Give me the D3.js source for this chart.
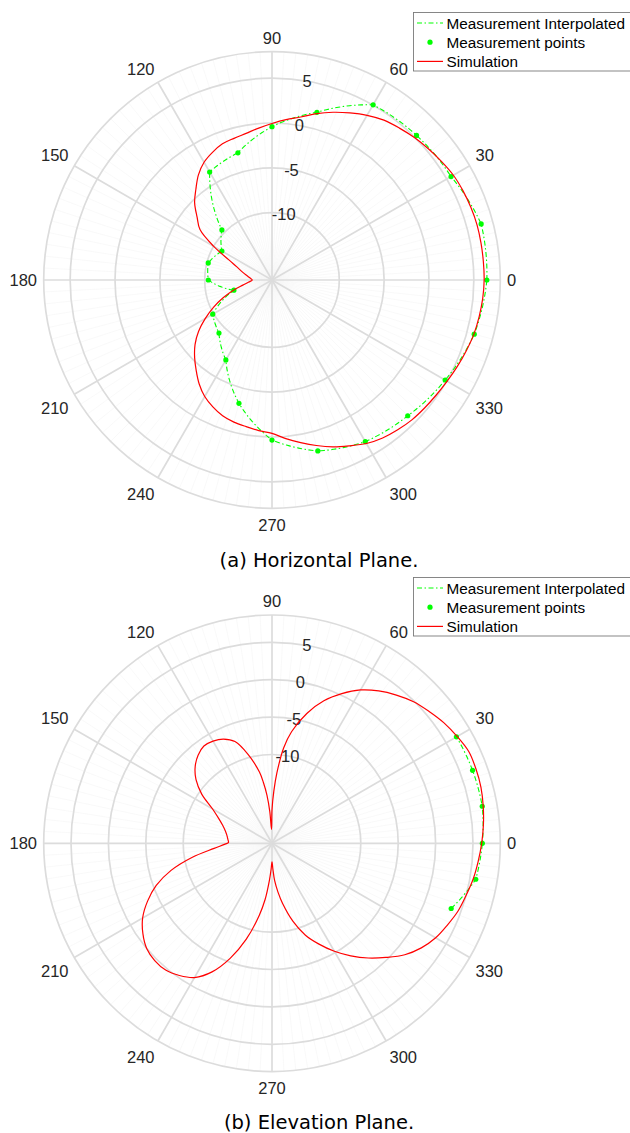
<!DOCTYPE html>
<html>
<head>
<meta charset="utf-8">
<script src="https://cdn.jsdelivr.net/npm/d3@7"></script>
<style>
  html, body { margin: 0; padding: 0; background: #fff; }
  svg { display: block; }
  .tick { font-family: "Liberation Sans", Arial, sans-serif; font-size: 16.5px; fill: #262626; }
  .leg { font-family: "Liberation Sans", Arial, sans-serif; font-size: 15.3px; fill: #000; }
  .cap { font-family: "DejaVu Sans", sans-serif; font-size: 19.5px; fill: #000; }
</style>
</head>
<body>
<svg id="fig" width="630" height="1133"></svg>
<script>
// ---- Horizontal plane: measured gain (dBi) every 15 degrees ----
const hMeasAngles = [0, 15, 30, 45, 60, 75, 90, 105, 120, 135, 150, 165,
                     180, 195, 210, 225, 240, 255, 270, 285, 300, 315, 330, 345];
const hMeasValues = [6.45, 6.64, 5.55, 5.29, 5.05, 1.85, -0.41, -2.82, -3.6, -9.6, -11.05, -10.14,
                     -10.4, -13.1, -9.87, -9.14, -7.21, -3.27, 0.34, 2.23, 3.30, 3.90, 4.79, 5.84];

// ---- Horizontal plane: simulated pattern ----
const hSimAngles = d3.range(0, 360, 5);
const hSimValues = [6.15, 6.15, 6.16, 6.17, 6.1, 6.0, 5.85, 5.55, 5.25, 4.95, 4.6, 4.25,
                    3.7, 3.05, 2.4, 1.7, 0.95, 0.45, -0.05, -0.5, -0.9, -1.15, -1.35, -1.8,
                    -2.35, -3.2, -4.3, -5.3, -6.6, -7.7, -10.0, -12.2, -13.4, -14.1, -14.65, -15.05,
                    -15.3, -14.9, -14.2, -13.0, -11.7, -10.3, -8.9, -7.5, -6.3, -5.3, -4.35, -3.35,
                    -2.5, -1.9, -1.4, -1.1, -0.9, -0.65, -0.4, 0.25, 0.9, 1.6, 2.3, 2.9,
                    3.55, 4.0, 4.3, 4.55, 4.7, 4.85, 5.05, 5.3, 5.55, 5.8, 5.95, 6.08];

// ---- Elevation plane: measured gain every 10 degrees around boresight ----
const eMeasAngles = [340, 350, 0, 10, 20, 30];
const eMeasValues = [3.62, 5.79, 6.25, 6.67, 6.66, 6.6];

// ---- Elevation plane: simulated pattern ----
const eSimAngles = [0, 5, 10, 15, 20, 25, 30, 35, 40, 45, 50, 55, 60, 65, 70, 75, 80, 83, 86, 88,
                    90, 92, 94, 96, 98, 100, 105, 110, 115, 120, 125, 130, 135, 140, 145, 150, 155,
                    160, 165, 170, 175, 179, 181, 185, 190, 195, 200, 205, 210, 215, 220, 225, 230,
                    235, 240, 245, 250, 255, 260, 263, 266, 268, 270, 272, 274, 277, 280, 285, 290,
                    295, 300, 305, 310, 315, 320, 325, 330, 335, 340, 345, 350, 355];
const eSimValues = [6.16, 6.5, 6.8, 7.05, 7.15, 7.15, 6.7, 6.2, 5.55, 4.9, 4.0, 3.0, 1.8, 0.2, -1.6, -3.9, -6.7, -9.0, -12.4, -14.9,
                    -17.4, -20.0, -17.6, -15.4, -13.7, -12.2, -9.6, -7.4, -6.5, -6.1, -6.0, -6.5, -7.35, -8.6, -10.4, -12.7, -14.0,
                    -14.85, -15.4, -15.75, -15.95, -16.05, -15.6, -14.1, -11.0, -7.9, -5.4, -3.5, -1.9, -0.8, 0.0, 0.3, 0.25,
                    -0.3, -1.15, -2.9, -5.5, -8.6, -12.1, -14.3, -16.9, -18.4, -19.4, -18.4, -16.9, -15.3, -13.7, -11.1, -8.8,
                    -7.0, -5.2, -3.5, -1.85, -0.3, 1.3, 2.5, 3.4, 4.0, 4.6, 5.0, 5.45, 5.8];

// ---- Axis ticks and labels ----
const thetaTicks = d3.range(0, 360, 30);
const rTicks = [-10, -5, 0, 5];
const legendLabels = ["Measurement Interpolated", "Measurement points", "Simulation"];
const captions = ["(a) Horizontal Plane.", "(b) Elevation Plane."];

const GREEN = "#00ff00", RED = "#ff0000";
const R = 228.3;          // outer radius of each polar axes
const LABEL_R = 235;      // radius at which angle labels are anchored
const svg = d3.select("#fig");
const deg = Math.PI / 180;

// Angles in degrees, counter-clockwise from east -> d3 radial angle
const radial = a => (90 - a) * deg;

// Straight segments in (angle, value) space, sampled each degree
function polarLinear(angles, values, closed) {
  const pts = [];
  const n = angles.length;
  const segs = closed ? n : n - 1;
  for (let i = 0; i < segs; i++) {
    const a0 = angles[i], v0 = values[i];
    let a1 = angles[(i + 1) % n];
    const v1 = values[(i + 1) % n];
    while (a1 <= a0) a1 += 360;
    const steps = Math.max(1, Math.ceil(a1 - a0));
    const ia = d3.interpolateNumber(a0, a1), iv = d3.interpolateNumber(v0, v1);
    for (let k = 0; k < steps; k++) pts.push([ia(k / steps), iv(k / steps)]);
  }
  if (!closed) pts.push([angles[n - 1], values[n - 1]]);
  return pts;
}

function drawPolar(spec) {
  const g = svg.append("g").attr("transform", `translate(${spec.cx},${spec.cy})`);
  const r = d3.scaleLinear().domain([spec.rMin, spec.rMax]).range([0, R]);

  // minor angular grid
  const minor = d3.range(0, 360, 3).filter(a => a % 30 !== 0);
  g.append("g").selectAll("line").data(minor).join("line")
    .attr("x1", 0).attr("y1", 0)
    .attr("x2", a => R * Math.cos(a * deg)).attr("y2", a => -R * Math.sin(a * deg))
    .attr("stroke", "#f5f5f5").attr("stroke-width", 0.6);

  // rings
  g.append("g").selectAll("circle").data(rTicks.concat([spec.rMax])).join("circle")
    .attr("r", d => r(d)).attr("fill", "none")
    .attr("stroke", "#dcdcdc").attr("stroke-width", 1.7);

  // major spokes
  g.append("g").selectAll("line").data(thetaTicks).join("line")
    .attr("x1", 0).attr("y1", 0)
    .attr("x2", a => R * Math.cos(a * deg)).attr("y2", a => -R * Math.sin(a * deg))
    .attr("stroke", "#dcdcdc").attr("stroke-width", 1.7);

  // angle labels
  g.append("g").selectAll("text").data(thetaTicks).join("text")
    .attr("class", "tick")
    .attr("x", a => LABEL_R * Math.cos(a * deg))
    .attr("y", a => {
      const s = Math.sin(a * deg), y = -LABEL_R * s;
      if (Math.abs(s) < 0.01) return y + 6;
      return s > 0 ? y - 1.5 : y + 16;
    })
    .attr("text-anchor", a => {
      const c = Math.cos(a * deg);
      return Math.abs(c) < 0.01 ? "middle" : (c > 0 ? "start" : "end");
    })
    .text(a => a);

  // radial labels along 80 degrees
  g.append("g").selectAll("text").data(rTicks).join("text")
    .attr("class", "tick")
    .attr("x", d => r(d) * Math.cos(80 * deg))
    .attr("y", d => -r(d) * Math.sin(80 * deg) + 6)
    .attr("text-anchor", "middle")
    .text(d => d);

  const line = d3.lineRadial().angle(d => radial(d[0])).radius(d => r(d[1]));

  // interpolated measurement
  g.append("path")
    .attr("d", line.curve(spec.measClosed ? d3.curveLinearClosed : d3.curveLinear)(
      polarLinear(spec.measAngles, spec.measValues, spec.measClosed)))
    .attr("fill", "none").attr("stroke", GREEN).attr("stroke-width", 1.1)
    .attr("stroke-dasharray", "5,2.5,1.5,2.5");

  // measurement points
  g.append("g").selectAll("circle").data(d3.zip(spec.measAngles, spec.measValues)).join("circle")
    .attr("cx", d => r(d[1]) * Math.cos(d[0] * deg))
    .attr("cy", d => -r(d[1]) * Math.sin(d[0] * deg))
    .attr("r", 2.6).attr("fill", GREEN);

  // simulation
  const sim = d3.lineRadial().angle(d => radial(d[0])).radius(d => r(d[1]))
    .curve(d3.curveCatmullRomClosed.alpha(0.5));
  g.append("path")
    .attr("d", sim(d3.zip(spec.simAngles, spec.simValues)))
    .attr("fill", "none").attr("stroke", RED).attr("stroke-width", 1.2);

  // legend
  const lg = svg.append("g").attr("transform", `translate(0,${spec.legendY})`);
  lg.append("rect").attr("x", 413.5).attr("y", 0.5).attr("width", 217).attr("height", 58.5)
    .attr("fill", "#fff").attr("stroke", "#7a7a7a").attr("stroke-width", 0.9);
  const rowY = i => 11 + i * 19.2;
  lg.append("line").attr("x1", 417).attr("x2", 443).attr("y1", rowY(0)).attr("y2", rowY(0))
    .attr("stroke", GREEN).attr("stroke-width", 1.1).attr("stroke-dasharray", "5,2.5,1.5,2.5");
  lg.append("circle").attr("cx", 430).attr("cy", rowY(1)).attr("r", 2.6).attr("fill", GREEN);
  lg.append("line").attr("x1", 417).attr("x2", 443).attr("y1", rowY(2)).attr("y2", rowY(2))
    .attr("stroke", RED).attr("stroke-width", 1.2);
  lg.selectAll("text").data(legendLabels).join("text")
    .attr("class", "leg").attr("x", 446.5).attr("y", (d, i) => rowY(i) + 5.5).text(d => d);

  // caption
  svg.append("text").attr("class", "cap").attr("x", 319).attr("y", spec.captionY)
    .attr("text-anchor", "middle").text(spec.caption);
}

drawPolar({
  cx: 272, cy: 280, rMin: -17.5, rMax: 7.95,
  measAngles: hMeasAngles, measValues: hMeasValues, measClosed: true,
  simAngles: hSimAngles, simValues: hSimValues,
  legendY: 12, caption: captions[0], captionY: 566.5
});

drawPolar({
  cx: 272, cy: 843.3, rMin: -21.87, rMax: 8.65,
  measAngles: eMeasAngles, measValues: eMeasValues, measClosed: false,
  simAngles: eSimAngles, simValues: eSimValues,
  legendY: 577, caption: captions[1], captionY: 1128.5
});
</script>
</body>
</html>
